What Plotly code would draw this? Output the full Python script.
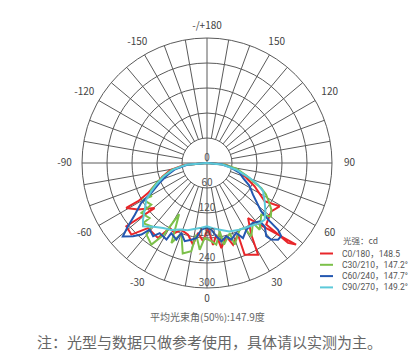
import math
import plotly.graph_objects as go

# ---------------- data ----------------
series_names = ["C0/180，148.5", "C30/210，147.2°", "C60/240，147.7°", "C90/270，149.2°"]
series_colors = ["#e8262a", "#7cc04a", "#2457b0", "#5cc9d9"]

theta_c0 = [-90, -85, -79, -73, -69, -66, -63, -61, -60.9, -56, -49.3, -51.9, -46.6, -42.2, -33.2, -29.8,
            -24.8, -21, -14.8, -9.7, -7.3, -2.9, 0.9, 4.2, 7.4, 9.6, 14.8, 17.7, 23.4, 22.3, 29.1, 31.7,
            36.7, 47.5, 45.4, 44.7, 43.9, 53, 59.2, 56.4, 64, 70.6, 78, 85, 90]
r_c0 = [0, 55, 90, 112, 125, 140, 159, 189, 222, 200, 166, 246, 250, 211, 215, 180,
        185, 172, 178, 199, 169, 188, 156, 197, 174, 207, 182, 206, 187, 238, 252, 202,
        165, 290, 273, 231, 205, 193, 203, 166, 127, 96, 70, 45, 0]

theta_c30 = [-90, -85, -79, -73, -68, -64, -59.1, -60.2, -53.2, -52.7, -46.2, -46.8, -41.3, -40.2, -34.3,
             -31, -28.6, -24, -20, -15, -10.1, -8.5, -4.8, -1.8, 3.1, 6.5, 10.5, 11.8, 18, 18.7, 26.1,
             30.1, 31.1, 37.5, 38.3, 46.4, 50, 54, 58, 62, 65.3, 68, 72, 79, 85, 90]
r_c30 = [0, 52, 86, 110, 132, 150, 156, 177, 167, 198, 191, 211, 202, 225, 237,
         200, 140, 210, 180, 225, 215, 174, 209, 180, 188, 197, 167, 200, 177, 207, 178,
         180, 206, 181, 204, 180, 200, 191, 175, 160, 143, 120, 100, 72, 42, 0]

theta_c60 = [-90, -85, -79, -73, -67, -61.7, -58.7, -54.4, -51.3, -48.9, -45.3, -42.5, -40.7, -36.4, -34,
             -27.9, -27, -21.8, -20.2, -15.9, -11.6, -8.1, -4.9, -0.6, 3.7, 7.2, 10.4, 14.8, 17.6, 22.7,
             25.6, 30.5, 37.5, 42.1, 42.3, 39, 40, 42.8, 45.4, 46.8, 47.1, 48.3, 55.4, 62, 67.4, 73,
             80, 85, 90]
r_c60 = [0, 48, 78, 100, 125, 152, 185, 213, 243, 268, 250, 233, 211, 218, 203,
         208, 189, 198, 179, 195, 188, 182, 161, 155, 160, 177, 191, 182, 193, 182,
         200, 186, 181, 189, 206, 226, 240, 251, 250, 234, 205, 174, 134, 115, 94, 82,
         55, 35, 0]

theta_c90 = [-90, -85, -79, -73, -67, -63, -59, -54, -48.5, -45.3, -40, -34, -28, -22, -16, -10, -5, 0,
             5, 11, 18, 26, 34, 41, 45.5, 50.4, 56.4, 63.2, 67, 70.6, 77, 84, 90]
r_c90 = [0, 50, 83, 108, 132, 150, 170, 184, 205, 216, 200, 188, 182, 172, 168, 160, 156, 152,
         157, 163, 173, 178, 183, 192, 194, 182, 166, 151, 133, 109, 72, 39, 0]

radial_ticks = [0, 60, 120, 180, 240, 300]
angle_tickvals = [0, 30, 60, 90, 120, 150, 180, 210, 240, 270, 300, 330]
angle_ticktext = ["0", "30", "60", "90", "120", "150", "-/+180", "-150", "-120", "-90", "-60", "-30"]

legend_title = "光强：cd"
beam_text = "平均光束角(50%):147.9度"
note_text = "注：光型与数据只做参考使用，具体请以实测为主。"

# ---------------- figure ----------------
FONT = "Noto Sans CJK SC, Noto Sans, sans-serif"
LEG_FONT = "Roboto, Noto Sans CJK SC, sans-serif"
GRID = "#5a5a5a"
W, H = 418, 363
rmax = radial_ticks[-1]
R_OUTER = rmax * 1.16          # axis range extends past the outer ring to hold the angle labels
LABEL_SHIFT = 12               # radial label drawn slightly inside its ring (r units)

fig = go.Figure()

# spokes every 10 degrees (full through centre on the main axes)
sp_t, sp_r = [], []
for a in range(0, 360, 10):
    r0 = 0 if a % 90 == 0 else radial_ticks[1]
    sp_t += [a, a, None]
    sp_r += [r0, rmax, None]
fig.add_trace(go.Scatterpolar(r=sp_r, theta=sp_t, mode="lines",
                              line=dict(color=GRID, width=1), hoverinfo="skip", showlegend=False))

all_t = [theta_c0, theta_c30, theta_c60, theta_c90]
all_r = [r_c0, r_c30, r_c60, r_c90]
for t, r, name, col in zip(all_t, all_r, series_names, series_colors):
    fig.add_trace(go.Scatterpolar(r=r, theta=t, mode="lines", name=name,
                                  line=dict(color=col, width=2), showlegend=False))

# radial tick labels along the 0 direction, just inside each ring
lab_r = [abs(v - LABEL_SHIFT) for v in radial_ticks]
lab_t = [0 if v - LABEL_SHIFT >= 0 else 180 for v in radial_ticks]
fig.add_trace(go.Scatterpolar(r=lab_r, theta=lab_t, mode="text",
                              text=[str(v) for v in radial_ticks], textposition="middle center",
                              textfont=dict(family=FONT, size=10, color="#555"),
                              hoverinfo="skip", showlegend=False))

# angular tick labels around the outside (side labels sit a little further out)
ang_lab_r = [rmax * (1.09 + 0.05 * abs(math.sin(math.radians(a)))) for a in angle_tickvals]
fig.add_trace(go.Scatterpolar(r=ang_lab_r, theta=angle_tickvals,
                              mode="text", text=angle_ticktext, textposition="middle center",
                              textfont=dict(family=FONT, size=10, color="#444"),
                              cliponaxis=False, hoverinfo="skip", showlegend=False))

cx, cy = 199, 155
R = 125 * R_OUTER / rmax   # pixel radius of the whole polar area
fig.update_layout(
    width=W, height=H,
    margin=dict(l=0, r=0, t=0, b=0),
    paper_bgcolor="white",
    showlegend=False,
    font=dict(family=FONT, color="#444"),
    polar=dict(
        domain=dict(x=[(cx - R) / W, (cx + R) / W], y=[(H - cy - R) / H, (H - cy + R) / H]),
        bgcolor="white",
        radialaxis=dict(range=[0, R_OUTER], tickvals=radial_ticks[1:], showticklabels=False,
                        ticks="", showline=False, gridcolor=GRID, gridwidth=1),
        angularaxis=dict(rotation=270, direction="counterclockwise",
                         tickmode="array", tickvals=angle_tickvals, showticklabels=False,
                         showgrid=False, showline=False, ticks=""),
    ),
)

# custom compact legend
ann = [dict(text=legend_title, x=333 / W, y=1 - 232 / H, xref="paper", yref="paper",
            xanchor="left", yanchor="middle", showarrow=False,
            font=dict(family=FONT, size=8.5, color="#555"))]
shapes = []
for i, (name, col) in enumerate(zip(series_names, series_colors)):
    yy = 1 - (245.5 + i * 11.3) / H
    ann.append(dict(text=name, x=332 / W, y=yy, xref="paper", yref="paper",
                    xanchor="left", yanchor="middle", showarrow=False,
                    font=dict(family=LEG_FONT, size=8.5, color="#555")))
    shapes.append(dict(type="line", xref="paper", yref="paper", x0=312 / W, x1=325 / W,
                       y0=yy, y1=yy, line=dict(color=col, width=2)))

ann.append(dict(text=beam_text, x=199 / W, y=1 - 308 / H, xref="paper", yref="paper",
                xanchor="center", yanchor="middle", showarrow=False,
                font=dict(family=FONT, size=10, color="#666")))
ann.append(dict(text=note_text, x=201 / W, y=1 - 333 / H, xref="paper", yref="paper",
                xanchor="center", yanchor="middle", showarrow=False,
                font=dict(family=FONT, size=15, color="#666")))
fig.update_layout(annotations=ann, shapes=shapes)

fig.write_html("out.html")
